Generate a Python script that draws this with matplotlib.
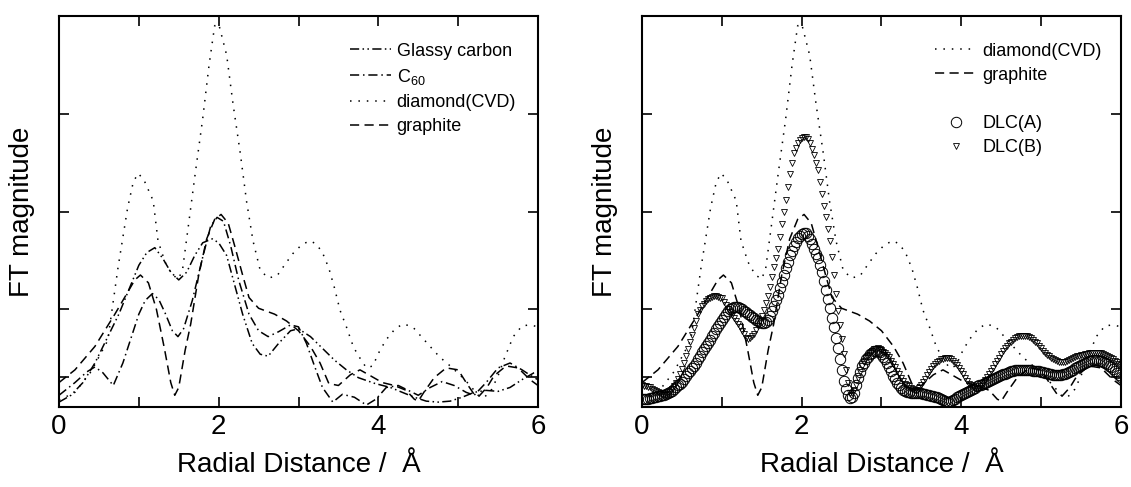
import numpy as np
import matplotlib
matplotlib.use("Agg")
import matplotlib.pyplot as plt
from matplotlib.lines import Line2D

plt.rcParams['font.family'] = ['Liberation Sans', 'DejaVu Sans']
plt.rcParams['mathtext.fontset'] = 'custom'
plt.rcParams['mathtext.rm'] = 'Liberation Sans'
plt.rcParams['mathtext.it'] = 'Liberation Sans:italic'

# diamond (CVD), dotted
x_dia = [0, 0.2, 0.4, 0.61, 0.74, 0.86, 0.93, 0.99, 1.06, 1.18, 1.24, 1.33, 1.42, 1.5, 1.55, 1.62,
         1.7, 1.8, 1.88, 1.95, 2.0, 2.1, 2.18, 2.27, 2.35, 2.43, 2.52, 2.62, 2.73, 2.84, 2.93,
         3.04, 3.14, 3.22, 3.3, 3.38, 3.45, 3.52, 3.6, 3.69, 3.77, 3.85, 3.93, 4.02, 4.1, 4.21,
         4.31, 4.43, 4.56, 4.67, 4.77, 4.9, 5.02, 5.15, 5.25, 5.33, 5.42, 5.5, 5.58, 5.69, 5.8,
         5.9, 6.0]
y_dia = [0.07, 0.15, 0.36, 0.68, 1.43, 2.04, 2.3, 2.39, 2.33, 2.11, 1.7, 1.48, 1.35, 1.31, 1.42, 1.85,
         2.35, 2.95, 3.5, 3.9, 3.92, 3.6, 3.1, 2.6, 2.1, 1.7, 1.4, 1.32, 1.34, 1.47, 1.57,
         1.66, 1.7, 1.67, 1.58, 1.42, 1.22, 0.99, 0.82, 0.61, 0.5, 0.4, 0.42, 0.58, 0.69, 0.8,
         0.85, 0.82, 0.7, 0.6, 0.51, 0.42, 0.33, 0.22, 0.12, 0.1, 0.18, 0.32, 0.5, 0.72, 0.83,
         0.84, 0.82]

# graphite, dashed
x_gra = [0, 0.2, 0.45, 0.7, 0.95, 1.02, 1.12, 1.22, 1.32, 1.4, 1.45, 1.5, 1.58, 1.65, 1.75, 1.85,
         1.95, 2.03, 2.12, 2.2, 2.3, 2.38, 2.5, 2.7, 2.85, 3.0, 3.15, 3.27, 3.38, 3.5, 3.65,
         3.77, 3.9, 4.05, 4.2, 4.35, 4.45, 4.5, 4.57, 4.7, 4.85, 5.0, 5.1, 5.2, 5.26, 5.36,
         5.45, 5.6, 5.75, 5.9, 6.0]
y_gra = [0.25, 0.38, 0.62, 0.95, 1.3, 1.35, 1.27, 1.0, 0.6, 0.25, 0.12, 0.2, 0.58, 0.85, 1.35, 1.72,
         1.92, 1.97, 1.88, 1.65, 1.35, 1.12, 1.01, 0.95, 0.88, 0.78, 0.62, 0.45, 0.24, 0.22, 0.33,
         0.38, 0.32, 0.25, 0.22, 0.17, 0.08, 0.06, 0.15, 0.3, 0.4, 0.38, 0.25, 0.13, 0.11, 0.2,
         0.32, 0.42, 0.4, 0.28, 0.22]

# C60, dash-dot
x_c60 = [0, 0.2, 0.35, 0.45, 0.55, 0.68, 0.8, 0.92, 1.0, 1.08, 1.17, 1.25, 1.33, 1.42, 1.49, 1.56,
         1.67, 1.79, 1.9, 1.98, 2.06, 2.15, 2.25, 2.38, 2.5, 2.62, 2.75, 2.9, 3.0, 3.1, 3.2,
         3.3, 3.43, 3.55, 3.7, 3.85, 3.97, 4.1, 4.25, 4.4, 4.5, 4.65, 4.8, 4.95, 5.1, 5.2,
         5.35, 5.5, 5.65, 5.8, 5.95, 6.0]
y_c60 = [0.12, 0.25, 0.36, 0.41, 0.35, 0.22, 0.45, 0.75, 0.95, 1.09, 1.16, 1.1, 0.96, 0.78, 0.72, 0.8,
         1.09, 1.5, 1.85, 1.94, 1.9, 1.65, 1.3, 0.95, 0.78, 0.72, 0.77, 0.84, 0.82, 0.65, 0.42,
         0.2, 0.05, 0.13, 0.1, 0.02, 0.08, 0.2, 0.22, 0.16, 0.12, 0.2, 0.26, 0.22, 0.15, 0.12,
         0.25, 0.4, 0.45, 0.38, 0.3, 0.28]

# glassy carbon, dash-dot-dot
x_gla = [0, 0.15, 0.3, 0.45, 0.6, 0.75, 0.9, 1.0, 1.1, 1.2, 1.3, 1.4, 1.5, 1.6, 1.7, 1.8, 1.92,
         2.0, 2.1, 2.2, 2.3, 2.42, 2.52, 2.62, 2.75, 2.9, 3.0, 3.15, 3.3, 3.45, 3.6, 3.75,
         3.96, 4.15, 4.3, 4.45, 4.6, 4.75, 4.9, 5.05, 5.2, 5.35, 5.5, 5.65, 5.8, 5.95, 6.0]
y_gla = [0.05, 0.12, 0.25, 0.45, 0.7, 0.95, 1.25, 1.45, 1.58, 1.63, 1.52, 1.38, 1.3, 1.38, 1.55, 1.68, 1.72,
         1.68, 1.55, 1.25, 0.95, 0.65, 0.54, 0.52, 0.65, 0.78, 0.8, 0.72, 0.6, 0.48, 0.38, 0.3,
         0.24, 0.2, 0.15, 0.1, 0.06, 0.05, 0.06, 0.1, 0.15, 0.17, 0.16, 0.2, 0.28, 0.35, 0.36]

# DLC samples, one every 0.025 A from 0 to 6
r_dlc = np.round(np.arange(0, 6.0001, 0.025), 3)
dlc_a = [0.08, 0.08, 0.08, 0.085, 0.09, 0.095, 0.10, 0.105, 0.11, 0.115,
         0.12, 0.125, 0.13, 0.14, 0.15, 0.165, 0.18, 0.20, 0.22, 0.24,
         0.26, 0.29, 0.32, 0.345, 0.37, 0.395, 0.42, 0.455, 0.49, 0.525,
         0.56, 0.59, 0.62, 0.655, 0.69, 0.725, 0.76, 0.795, 0.83, 0.86,
         0.89, 0.92, 0.95, 0.98, 1.00, 1.01, 1.02, 1.02, 1.02, 1.01,
         1.00, 0.985, 0.97, 0.955, 0.94, 0.925, 0.91, 0.895, 0.88, 0.87,
         0.86, 0.86, 0.87, 0.895, 0.93, 0.98, 1.03, 1.09, 1.15, 1.215,
         1.28, 1.35, 1.42, 1.485, 1.55, 1.60, 1.65, 1.69, 1.73, 1.75,
         1.77, 1.78, 1.78, 1.75, 1.72, 1.67, 1.62, 1.57, 1.52, 1.45,
         1.38, 1.29, 1.20, 1.105, 1.01, 0.915, 0.82, 0.71, 0.60, 0.49,
         0.38, 0.27, 0.18, 0.12, 0.09, 0.10, 0.14, 0.22, 0.30, 0.36,
         0.42, 0.455, 0.49, 0.515, 0.54, 0.555, 0.57, 0.575, 0.57, 0.56,
         0.54, 0.515, 0.49, 0.45, 0.41, 0.365, 0.32, 0.285, 0.25, 0.22,
         0.19, 0.175, 0.16, 0.155, 0.15, 0.145, 0.14, 0.14, 0.14, 0.14,
         0.14, 0.135, 0.13, 0.125, 0.12, 0.115, 0.11, 0.105, 0.10, 0.09,
         0.08, 0.07, 0.06, 0.055, 0.05, 0.06, 0.07, 0.085, 0.10, 0.11,
         0.12, 0.13, 0.14, 0.15, 0.16, 0.17, 0.18, 0.195, 0.21, 0.22,
         0.23, 0.24, 0.25, 0.26, 0.27, 0.28, 0.29, 0.30, 0.31, 0.32,
         0.33, 0.335, 0.34, 0.35, 0.36, 0.365, 0.37, 0.375, 0.38, 0.38,
         0.38, 0.38, 0.38, 0.38, 0.38, 0.375, 0.37, 0.37, 0.37, 0.365,
         0.36, 0.355, 0.35, 0.345, 0.34, 0.335, 0.33, 0.33, 0.33, 0.33,
         0.33, 0.335, 0.34, 0.35, 0.36, 0.37, 0.38, 0.395, 0.41, 0.42,
         0.43, 0.44, 0.45, 0.46, 0.47, 0.475, 0.48, 0.48, 0.48, 0.475,
         0.47, 0.46, 0.45, 0.435, 0.42, 0.405, 0.39, 0.37, 0.35, 0.33,
         0.31]
dlc_b = [0.22, 0.215, 0.21, 0.205, 0.20, 0.185, 0.17, 0.16, 0.15, 0.14,
         0.13, 0.125, 0.12, 0.13, 0.15, 0.18, 0.21, 0.25, 0.29, 0.34,
         0.39, 0.45, 0.52, 0.59, 0.66, 0.735, 0.81, 0.88, 0.95, 0.99,
         1.03, 1.055, 1.08, 1.10, 1.12, 1.13, 1.14, 1.14, 1.13, 1.12,
         1.11, 1.075, 1.04, 1.005, 0.97, 0.94, 0.91, 0.88, 0.85, 0.815,
         0.78, 0.745, 0.71, 0.70, 0.71, 0.73, 0.75, 0.79, 0.83, 0.88,
         0.93, 0.99, 1.06, 1.14, 1.23, 1.33, 1.43, 1.52, 1.62, 1.74,
         1.87, 2.0, 2.12, 2.25, 2.38, 2.50, 2.60, 2.65, 2.70, 2.73,
         2.75, 2.76, 2.76, 2.74, 2.70, 2.64, 2.58, 2.50, 2.42, 2.30,
         2.18, 2.06, 1.94, 1.82, 1.70, 1.53, 1.35, 1.16, 0.98, 0.84,
         0.70, 0.54, 0.38, 0.25, 0.14, 0.14, 0.17, 0.23, 0.30, 0.36,
         0.42, 0.46, 0.50, 0.525, 0.55, 0.57, 0.59, 0.595, 0.60, 0.59,
         0.58, 0.565, 0.55, 0.53, 0.51, 0.475, 0.44, 0.405, 0.37, 0.335,
         0.30, 0.27, 0.24, 0.225, 0.21, 0.195, 0.18, 0.175, 0.17, 0.19,
         0.22, 0.255, 0.29, 0.325, 0.36, 0.39, 0.42, 0.44, 0.46, 0.475,
         0.49, 0.495, 0.50, 0.50, 0.50, 0.49, 0.47, 0.45, 0.43, 0.40,
         0.37, 0.335, 0.30, 0.27, 0.24, 0.22, 0.20, 0.19, 0.18, 0.19,
         0.21, 0.245, 0.28, 0.31, 0.34, 0.37, 0.40, 0.435, 0.47, 0.505,
         0.54, 0.57, 0.60, 0.625, 0.65, 0.67, 0.69, 0.705, 0.72, 0.725,
         0.73, 0.73, 0.73, 0.725, 0.72, 0.705, 0.69, 0.67, 0.65, 0.625,
         0.60, 0.575, 0.55, 0.535, 0.52, 0.505, 0.49, 0.48, 0.47, 0.465,
         0.46, 0.46, 0.46, 0.47, 0.48, 0.49, 0.50, 0.51, 0.52, 0.525,
         0.53, 0.535, 0.54, 0.545, 0.55, 0.55, 0.55, 0.55, 0.55, 0.55,
         0.55, 0.54, 0.53, 0.52, 0.51, 0.50, 0.49, 0.475, 0.46, 0.445,
         0.43]

x_ticks = [0, 2, 4, 6]
y_ticks = [0.31, 1, 2, 3]

LW = 1.1
ls_dot = (0, (1, 4.5))
ls_dash = (0, (6, 3.5))
ls_dashdot = (0, (6, 2.5, 1, 2.5))
ls_dashdotdot = (0, (6, 2.2, 1, 2.2, 1, 2.2))

fig = plt.figure(figsize=(11.31, 4.87), dpi=100)
W, H = 1131, 487
ax1 = fig.add_axes([59 / W, (H - 407) / H, 479 / W, 391 / H])
ax2 = fig.add_axes([642 / W, (H - 407) / H, 479 / W, 391 / H])

ax1.plot(x_gla, y_gla, color='k', lw=LW, ls=ls_dashdotdot, label='Glassy carbon')
ax1.plot(x_c60, y_c60, color='k', lw=LW, ls=ls_dashdot, label=r'C$_{\mathrm{60}}$')
ax1.plot(x_dia, y_dia, color='k', lw=LW, ls=ls_dot, label='diamond(CVD)')
ax1.plot(x_gra, y_gra, color='k', lw=LW, ls=ls_dash, label='graphite')

ax2.plot(x_dia, y_dia, color='k', lw=LW, ls=ls_dot, label='diamond(CVD)')
ax2.plot(x_gra, y_gra, color='k', lw=LW, ls=ls_dash, label='graphite')
ax2.plot(r_dlc, dlc_a, ls='none', marker='o', ms=7.5, mfc='none', mec='k', mew=0.7, label='DLC(A)')
ax2.plot(r_dlc, dlc_b, ls='none', marker='v', ms=5, mfc='none', mec='k', mew=0.6, label='DLC(B)')

for ax in (ax1, ax2):
    ax.set_xlim(0, 6)
    ax.set_ylim(0, 4)
    ax.set_xticks(x_ticks)
    ax.set_xticks([1, 3, 5], minor=True)
    ax.set_yticks(y_ticks)
    ax.set_yticklabels([])
    ax.tick_params(which='both', direction='in', top=True, right=True, width=1.2)
    ax.tick_params(which='major', length=7, labelsize=20, pad=5)
    ax.tick_params(which='minor', length=7)
    for s in ax.spines.values():
        s.set_linewidth(1.5)
    ax.set_xlabel('Radial Distance /  Å', fontsize=20, labelpad=9)
    ax.set_ylabel('FT magnitude', fontsize=20, labelpad=12)

ax1.legend(loc='upper left', bbox_to_anchor=(0.607, 0.932), frameon=False, fontsize=13,
           handlelength=2.3, handletextpad=0.3, labelspacing=0.4, borderpad=0, borderaxespad=0)

h, l = ax2.get_legend_handles_labels()
blank = Line2D([], [], ls='none')
ax2.legend(h[:2] + [blank] + h[2:], l[:2] + [''] + l[2:], loc='upper left',
           bbox_to_anchor=(0.612, 0.932), frameon=False, fontsize=13, numpoints=1,
           handlelength=2.3, handletextpad=0.3, labelspacing=0.4, borderpad=0, borderaxespad=0)

fig.savefig('out.png', dpi=100)
